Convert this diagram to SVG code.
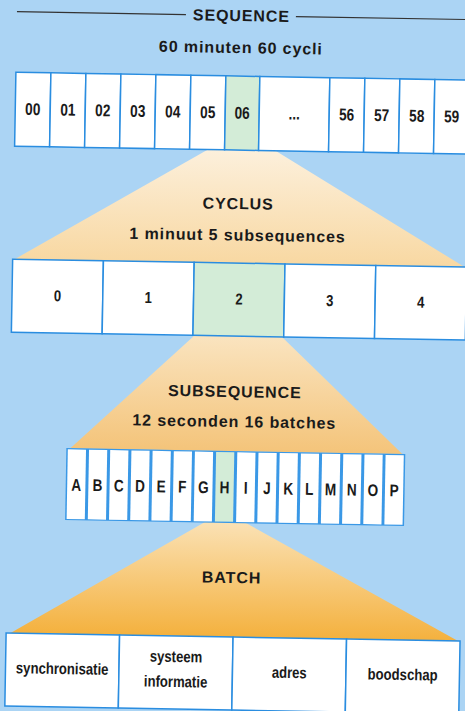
<svg xmlns="http://www.w3.org/2000/svg" width="465" height="711" viewBox="0 0 465 711">
  <defs>
    <linearGradient id="fan1" x1="0" y1="0" x2="0" y2="1">
      <stop offset="0" stop-color="#fdf4e6"/>
      <stop offset="1" stop-color="#f8d8a2"/>
    </linearGradient>
    <linearGradient id="fan2" x1="0" y1="0" x2="0" y2="1">
      <stop offset="0" stop-color="#fcefd8"/>
      <stop offset="1" stop-color="#f4c47a"/>
    </linearGradient>
    <linearGradient id="fan3" x1="0" y1="0" x2="0" y2="1">
      <stop offset="0" stop-color="#fbe6c0"/>
      <stop offset="1" stop-color="#f4b13e"/>
    </linearGradient>
    <style>
      .bg { fill: #abd4f4; }
      .cell { fill: #ffffff; stroke: #2a8de0; stroke-width: 1.5; }
      .sel { fill: #d3ecd7; stroke: #2a8de0; stroke-width: 1.5; }
      .slot { fill: #ffffff; }
      .slot-sel { fill: #d3ecd7; }
      .bar { fill: #3a98e6; }
      .rule { stroke: #333333; stroke-width: 1.2; }
      text { font-family: "Liberation Sans", Arial, sans-serif; font-weight: bold; fill: #1a1a1a; text-anchor: middle; }
      .title { font-size: 16px; letter-spacing: 0.9px; }
      /* narrow lettering inside the slots */
      .num, .big, .let, .lbl { transform-box: fill-box; transform-origin: center; }
      .num { font-size: 17px; transform: scaleX(0.8); }
      .big { font-size: 16px; transform: scaleX(0.82); }
      .let { font-size: 17px; transform: scaleX(0.8); }
      .lbl { font-size: 16px; transform: scaleX(0.82); }
    </style>
  </defs>

  <rect class="bg" x="0" y="0" width="465" height="711"/>

  <!-- the whole chart sits slightly tilted -->
  <g transform="rotate(1 232 355)">

    <!-- fans expanding a selected slot into the next level -->
    <g id="connectors">
      <polygon points="238,130 463,263 13,263" fill="url(#fan1)"/>
      <polygon points="238,295 404,451 72,451" fill="url(#fan2)"/>
      <polygon points="227,511 463,637 15,637" fill="url(#fan3)"/>
    </g>

    <!-- heading -->
    <g id="sequence-title">
      <line class="rule" x1="11" y1="15.5" x2="180" y2="15.5"/>
      <line class="rule" x1="290" y1="15.5" x2="472" y2="15.5"/>
      <text class="title" x="235.5" y="21">SEQUENCE</text>
      <text class="title" x="235.5" y="53">60 minuten 60 cycli</text>
    </g>

    <!-- sequence: 60 cycles -->
    <g id="sequence">
      <g id="cycle-00"><rect class="cell" x="11" y="76" width="35" height="74"/><text class="num" x="28.5" y="118.5">00</text></g>
      <g id="cycle-01"><rect class="cell" x="46" y="76" width="35" height="74"/><text class="num" x="63.5" y="118.5">01</text></g>
      <g id="cycle-02"><rect class="cell" x="81" y="76" width="35" height="74"/><text class="num" x="98.5" y="118.5">02</text></g>
      <g id="cycle-03"><rect class="cell" x="116" y="76" width="35" height="74"/><text class="num" x="133.5" y="118.5">03</text></g>
      <g id="cycle-04"><rect class="cell" x="151" y="76" width="35" height="74"/><text class="num" x="168.5" y="118.5">04</text></g>
      <g id="cycle-05"><rect class="cell" x="186" y="76" width="35" height="74"/><text class="num" x="203.5" y="118.5">05</text></g>
      <g id="cycle-06"><rect class="sel" x="221" y="76" width="34" height="74"/><text class="num" x="238" y="118.5">06</text></g>
      <g id="cycle-more"><rect class="cell" x="255" y="76" width="70" height="74"/><text class="num" x="290" y="118.5">...</text></g>
      <g id="cycle-56"><rect class="cell" x="325" y="76" width="35" height="74"/><text class="num" x="342.5" y="118.5">56</text></g>
      <g id="cycle-57"><rect class="cell" x="360" y="76" width="35" height="74"/><text class="num" x="377.5" y="118.5">57</text></g>
      <g id="cycle-58"><rect class="cell" x="395" y="76" width="35" height="74"/><text class="num" x="412.5" y="118.5">58</text></g>
      <g id="cycle-59"><rect class="cell" x="430" y="76" width="35" height="74"/><text class="num" x="447.5" y="118.5">59</text></g>
    </g>

    <!-- cycle heading -->
    <g id="cycle-title">
      <text class="title" x="235.5" y="209">CYCLUS</text>
      <text class="title" x="235.5" y="240.5">1 minuut 5 subsequences</text>
    </g>

    <!-- cycle: 5 subsequences -->
    <g id="cycle">
      <g id="sub-0"><rect class="cell" x="11" y="263" width="90.8" height="73"/><text class="big" x="56.4" y="304.5">0</text></g>
      <g id="sub-1"><rect class="cell" x="101.8" y="263" width="90.8" height="73"/><text class="big" x="147.2" y="304.5">1</text></g>
      <g id="sub-2"><rect class="sel" x="192.6" y="263" width="90.8" height="73"/><text class="big" x="238" y="304.5">2</text></g>
      <g id="sub-3"><rect class="cell" x="283.4" y="263" width="90.8" height="73"/><text class="big" x="328.8" y="304.5">3</text></g>
      <g id="sub-4"><rect class="cell" x="374.2" y="263" width="90.8" height="73"/><text class="big" x="419.6" y="304.5">4</text></g>
    </g>

    <!-- subsequence heading -->
    <g id="subsequence-title">
      <text class="title" x="235.5" y="397">SUBSEQUENCE</text>
      <text class="title" x="235.5" y="427">12 seconden 16 batches</text>
    </g>

    <!-- subsequence: 16 batches -->
    <g id="subsequence">
      <rect class="bar" x="68" y="451" width="339" height="72"/>
      <g id="batch-A"><rect class="slot" x="69.5" y="452.2" width="18.2" height="69.6"/><text class="let" x="78.6" y="493.5">A</text></g>
      <g id="batch-B"><rect class="slot" x="90.7" y="452.2" width="18.2" height="69.6"/><text class="let" x="99.8" y="493.5">B</text></g>
      <g id="batch-C"><rect class="slot" x="111.9" y="452.2" width="18.2" height="69.6"/><text class="let" x="121" y="493.5">C</text></g>
      <g id="batch-D"><rect class="slot" x="133.1" y="452.2" width="18.2" height="69.6"/><text class="let" x="142.2" y="493.5">D</text></g>
      <g id="batch-E"><rect class="slot" x="154.3" y="452.2" width="18.2" height="69.6"/><text class="let" x="163.4" y="493.5">E</text></g>
      <g id="batch-F"><rect class="slot" x="175.5" y="452.2" width="18.2" height="69.6"/><text class="let" x="184.6" y="493.5">F</text></g>
      <g id="batch-G"><rect class="slot" x="196.6" y="452.2" width="18.2" height="69.6"/><text class="let" x="205.7" y="493.5">G</text></g>
      <g id="batch-H"><rect class="slot-sel" x="217.8" y="452.2" width="18.2" height="69.6"/><text class="let" x="226.9" y="493.5">H</text></g>
      <g id="batch-I"><rect class="slot" x="239" y="452.2" width="18.2" height="69.6"/><text class="let" x="248.1" y="493.5">I</text></g>
      <g id="batch-J"><rect class="slot" x="260.2" y="452.2" width="18.2" height="69.6"/><text class="let" x="269.3" y="493.5">J</text></g>
      <g id="batch-K"><rect class="slot" x="281.4" y="452.2" width="18.2" height="69.6"/><text class="let" x="290.5" y="493.5">K</text></g>
      <g id="batch-L"><rect class="slot" x="302.6" y="452.2" width="18.2" height="69.6"/><text class="let" x="311.7" y="493.5">L</text></g>
      <g id="batch-M"><rect class="slot" x="323.8" y="452.2" width="18.2" height="69.6"/><text class="let" x="332.9" y="493.5">M</text></g>
      <g id="batch-N"><rect class="slot" x="345" y="452.2" width="18.2" height="69.6"/><text class="let" x="354.1" y="493.5">N</text></g>
      <g id="batch-O"><rect class="slot" x="366.2" y="452.2" width="18.2" height="69.6"/><text class="let" x="375.3" y="493.5">O</text></g>
      <g id="batch-P"><rect class="slot" x="387.3" y="452.2" width="18.2" height="69.6"/><text class="let" x="396.4" y="493.5">P</text></g>
    </g>

    <!-- batch heading -->
    <g id="batch-title">
      <text class="title" x="235.5" y="583">BATCH</text>
    </g>

    <!-- batch: 4 fields -->
    <g id="batch">
      <g id="field-sync"><rect class="cell" x="11" y="637" width="113.5" height="73"/><text class="lbl" x="67.7" y="677">synchronisatie</text></g>
      <g id="field-system"><rect class="cell" x="124.5" y="637" width="113.5" height="73"/><text class="lbl" x="181.3" y="663">systeem</text><text class="lbl" x="181.3" y="688">informatie</text></g>
      <g id="field-address"><rect class="cell" x="238" y="637" width="113.5" height="73"/><text class="lbl" x="294.8" y="677">adres</text></g>
      <g id="field-message"><rect class="cell" x="351.5" y="637" width="113.5" height="73"/><text class="lbl" x="408.2" y="677">boodschap</text></g>
    </g>
  </g>
</svg>
